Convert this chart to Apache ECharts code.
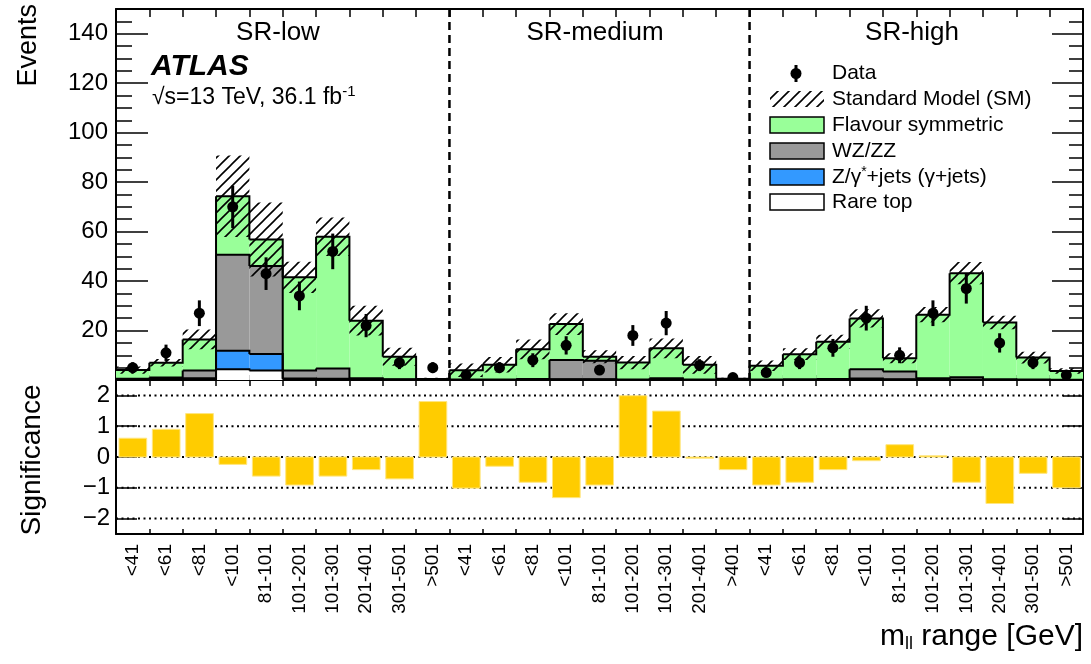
<!DOCTYPE html>
<html>
<head>
<meta charset="utf-8">
<script src="https://cdn.jsdelivr.net/npm/echarts@6/dist/echarts.min.js"></script>
<style>
  html, body { margin: 0; padding: 0; background: #fff; }
  #chart { width: 1091px; height: 664px; }
</style>
</head>
<body>
<div id="chart"></div>
<script>
// bins (m_ll ranges) of the three signal regions
const categories = [
  '<41', '<61', '<81', '<101', '81-101', '101-201', '101-301', '201-401', '301-501', '>501',
  '<41', '<61', '<81', '<101', '81-101', '101-201', '101-301', '201-401', '>401',
  '<41', '<61', '<81', '<101', '81-101', '101-201', '101-301', '201-401', '301-501', '>501'
];
const regionNames = ['SR-low', 'SR-medium', 'SR-high'];
const regionEdges = [0, 10, 19, 29];

// observed data and error bars
const dataObs = [5, 11, 27, 70, 43, 34, 52, 22, 7, 5, 2, 5, 8, 14, 4, 18, 23, 6, 1, 3, 7, 13, 25, 10, 27, 37, 15, 7, 2];
const dataErr = [2.2, 3.3, 5.2, 8.6, 6.6, 5.8, 7.2, 4.7, 2.6, 2.2, 1.4, 2.2, 2.8, 3.7, 2.0, 4.2, 4.9, 2.4, 1.0, 1.7, 2.6, 3.6, 5.0, 3.2, 5.2, 6.1, 3.9, 2.6, 1.4];

// background components (stacked from the bottom up)
const rareTop = [0.1, 0.3, 0.2, 4.3, 3.8, 0.3, 0.3, 0.1, 0.1, 0.1, 0.05, 0.05, 0.1, 0.2, 0.2, 0.05, 0.1, 0.05, 0.05, 0.05, 0.05, 0.05, 0.1, 0.1, 0.1, 0.1, 0.05, 0.05, 0.05];
const zJets = [0.1, 0.2, 0.5, 7.5, 6.7, 0.3, 0.2, 0.1, 0, 0, 0, 0, 0, 0.1, 0.1, 0, 0, 0, 0, 0, 0, 0, 0.5, 0.2, 0, 0, 0, 0, 0];
const wzZZ = [0.3, 0.5, 3.1, 38.8, 35.6, 3.2, 4.1, 0.5, 0.2, 0.1, 0.2, 0.2, 0.3, 7.8, 7.5, 0.2, 0.6, 0.2, 0.1, 0.2, 0.3, 0.4, 3.7, 3.1, 0.6, 1.0, 0.3, 0.2, 0.1];
const flavSym = [3.5, 6.0, 12.6, 23.7, 10.7, 37.7, 53.3, 23.3, 9.1, 0.2, 3.7, 5.9, 12.0, 14.5, 1.6, 6.8, 12.1, 5.9, 0.4, 5.5, 10.1, 15.0, 20.6, 5.4, 25.7, 42.1, 22.9, 8.8, 3.5];
// total SM uncertainty (half width of hatched band)
const smUnc = [1.5, 1.5, 4.0, 16.5, 15.0, 6.3, 7.8, 6.0, 3.6, 0.5, 2.7, 3.1, 4.0, 4.4, 2.6, 2.7, 4.0, 3.6, 0.4, 2.1, 2.4, 2.8, 3.7, 2.0, 3.1, 4.5, 2.7, 2.4, 1.1];

// lower panel
const significance = [0.61, 0.90, 1.41, -0.24, -0.62, -0.91, -0.62, -0.41, -0.71, 1.80,
  -1.01, -0.30, -0.82, -1.32, -0.91, 1.99, 1.49, -0.04, -0.41,
  -0.91, -0.82, -0.41, -0.12, 0.40, 0.04, -0.82, -1.51, -0.53, -1.0];
const sigTicks = [-2, -1, 0, 1, 2];

const FONT = '"Liberation Sans", Arial, Helvetica, sans-serif';
const nBins = categories.length;

function makeHatch() {
  const c = document.createElement('canvas');
  c.width = 11; c.height = 11;
  const g = c.getContext('2d');
  g.strokeStyle = '#000';
  g.lineWidth = 1.6;
  g.beginPath();
  g.moveTo(0, 11); g.lineTo(11, 0);
  g.moveTo(-5.5, 5.5); g.lineTo(5.5, -5.5);
  g.moveTo(5.5, 16.5); g.lineTo(16.5, 5.5);
  g.stroke();
  return c;
}
const hatch = makeHatch();

function layerRender(lower, upper, color) {
  return function (params, api) {
    const i = params.dataIndex;
    const w = api.size([1, 0])[0];
    const t = api.coord([i, upper[i]]);
    const b = api.coord([i, lower[i]]);
    const x0 = t[0] - w / 2, x1 = t[0] + w / 2;
    const pts = [[x0, t[1]], [x1, t[1]]];
    if (i < upper.length - 1) pts.push([x1, api.coord([i + 1, upper[i + 1]])[1]]);
    return {
      type: 'group',
      children: [
        {type: 'rect', z2: 0, shape: {x: x0, y: t[1], width: w, height: b[1] - t[1]}, style: {fill: color}},
        {type: 'polyline', z2: 10, shape: {points: pts}, style: {stroke: '#000', lineWidth: 2, fill: null}}
      ]
    };
  };
}

const layers = [
  {name: 'Rare top', values: rareTop, color: '#ffffff'},
  {name: 'Z/γ*+jets (γ+jets)', values: zJets, color: '#3399ff'},
  {name: 'WZ/ZZ', values: wzZZ, color: '#999999'},
  {name: 'Flavour symmetric', values: flavSym, color: '#99ff99'}
];
let base = categories.map(() => 0);
const stackSeries = layers.map(l => {
  const lower = base;
  const upper = base.map((v, i) => v + l.values[i]);
  base = upper;
  return {
    type: 'custom', name: l.name, xAxisIndex: 0, yAxisIndex: 0, z: 2, clip: true,
    data: upper.map((v, i) => [i, v]),
    renderItem: layerRender(lower, upper, l.color)
  };
});
const smTotal = base;

const chart = echarts.init(document.getElementById('chart'));

const tickLine = {color: '#000', width: 1.5};
const frameLine = {show: true, onZero: false, lineStyle: {color: '#000', width: 2}};

function catAxis(grid, pos, len, extra) {
  return Object.assign({
    gridIndex: grid, type: 'category', position: pos, data: categories,
    axisLine: frameLine,
    axisTick: {show: true, inside: true, length: len, interval: 0, lineStyle: tickLine},
    axisLabel: {show: false}, splitLine: {show: false}
  }, extra || {});
}
function valAxis(grid, pos, min, max, interval, len, showLine, label) {
  return {
    gridIndex: grid, type: 'value', position: pos, min: min, max: max, interval: interval,
    axisLine: showLine ? frameLine : {show: false},
    axisTick: {show: true, inside: true, length: len, lineStyle: tickLine},
    axisLabel: label || {show: false},
    splitLine: {show: false}
  };
}

const topLabel = {
  show: true, color: '#000', fontFamily: FONT, fontSize: 24, margin: 8,
  showMaxLabel: false, formatter: v => (v === 0 ? '' : String(v))
};

const sigAxis = (pos, len, withLabel) => ({
  gridIndex: 1, type: 'value', position: pos, min: -2.5, max: 2.5,
  axisLine: frameLine,
  axisTick: {show: true, inside: true, length: len, customValues: sigTicks, lineStyle: tickLine},
  axisLabel: withLabel ? {
    show: true, customValues: sigTicks, color: '#000', fontFamily: FONT, fontSize: 24, margin: 6,
    formatter: v => (v < 0 ? '\u2212' + Math.abs(v) : String(v))
  } : {show: false},
  splitLine: {show: false}
});

chart.setOption({
  animation: false,
  backgroundColor: '#fff',
  grid: [
    {left: 116, right: 8, top: 9, height: 371},
    {left: 116, right: 8, top: 380, height: 154}
  ],
  xAxis: [
    catAxis(0, 'bottom', 5),
    catAxis(0, 'top', 8),
    catAxis(1, 'bottom', 5, {
      axisLabel: {show: true, interval: 0, rotate: 90, margin: 10, color: '#000', fontFamily: FONT, fontSize: 19}
    }),
    catAxis(1, 'top', 6)
  ],
  yAxis: [
    valAxis(0, 'left', 0, 150, 20, 32, true, topLabel),
    valAxis(0, 'left', 0, 150, 5, 16, false),
    valAxis(0, 'right', 0, 150, 20, 31, true),
    valAxis(0, 'right', 0, 150, 5, 14, false),
    sigAxis('left', 21, true),
    sigAxis('right', 20, false)
  ],
  series: stackSeries.concat([
    {
      type: 'custom', name: 'Standard Model (SM)', xAxisIndex: 0, yAxisIndex: 0, z: 3, clip: true,
      data: smTotal.map((v, i) => [i, v]),
      renderItem: (params, api) => {
        const i = params.dataIndex;
        const w = api.size([1, 0])[0];
        const t = api.coord([i, smTotal[i] + smUnc[i]]);
        const b = api.coord([i, Math.max(0, smTotal[i] - smUnc[i])]);
        return {type: 'rect', shape: {x: t[0] - w / 2, y: t[1], width: w, height: b[1] - t[1]},
          style: {fill: {image: hatch, repeat: 'repeat'}}};
      }
    },
    {
      type: 'custom', name: 'Data', xAxisIndex: 0, yAxisIndex: 0, z: 4, clip: true,
      data: dataObs.map((v, i) => [i, v]),
      renderItem: (params, api) => {
        const i = params.dataIndex;
        const p = api.coord([i, dataObs[i]]);
        const hi = api.coord([i, dataObs[i] + dataErr[i]]);
        const lo = api.coord([i, Math.max(0, dataObs[i] - dataErr[i])]);
        return {type: 'group', children: [
          {type: 'line', shape: {x1: p[0], y1: hi[1], x2: p[0], y2: lo[1]}, style: {stroke: '#000', lineWidth: 3}},
          {type: 'circle', shape: {cx: p[0], cy: p[1], r: 5.5}, style: {fill: '#000'}}
        ]};
      }
    },
    {
      // region separators
      type: 'custom', xAxisIndex: 0, yAxisIndex: 0, z: 5, silent: true,
      data: regionEdges.slice(1, -1).map(e => [e, 0]),
      renderItem: (params, api) => {
        const e = regionEdges[params.dataIndex + 1];
        const w = api.size([1, 0])[0];
        const b = api.coord([e, 0]);
        const t = api.coord([e, 150]);
        const x = b[0] - w / 2;
        return {type: 'line', shape: {x1: x, y1: t[1], x2: x, y2: b[1]},
          style: {stroke: '#000', lineWidth: 2.5, lineDash: [8, 5]}};
      }
    },
    {
      // dotted reference lines of the lower panel
      type: 'custom', xAxisIndex: 2, yAxisIndex: 4, z: 1, silent: true,
      data: sigTicks.map(v => [0, v]),
      renderItem: (params, api) => {
        const v = sigTicks[params.dataIndex];
        const w = api.size([1, 0])[0];
        const a = api.coord([0, v]);
        const b = api.coord([nBins - 1, v]);
        return {type: 'line', shape: {x1: a[0] - w / 2, y1: a[1], x2: b[0] + w / 2, y2: a[1]},
          style: {stroke: '#000', lineWidth: 2, lineDash: [2, 3.5]}};
      }
    },
    {
      type: 'custom', name: 'Significance', xAxisIndex: 2, yAxisIndex: 4, z: 2, clip: true,
      data: significance.map((v, i) => [i, v]),
      renderItem: (params, api) => {
        const i = params.dataIndex;
        const w = api.size([1, 0])[0];
        const z = api.coord([i, 0]);
        const t = api.coord([i, significance[i]]);
        const x0 = z[0] - w / 2 + 0.09 * w;
        return {type: 'rect', shape: {x: x0, y: Math.min(z[1], t[1]), width: 0.83 * w, height: Math.abs(t[1] - z[1])},
          style: {fill: '#ffcc00', stroke: '#ffe680', lineWidth: 1}};
      }
    }
  ]),
  graphic: [
    {type: 'text', x: 29, y: 4, rotation: Math.PI / 2,
      style: {text: 'Events', font: '27px ' + FONT, fill: '#000', align: 'right', verticalAlign: 'middle'}},
    {type: 'text', x: 32, y: 460, rotation: Math.PI / 2,
      style: {text: 'Significance', font: '28px ' + FONT, fill: '#000', align: 'center', verticalAlign: 'middle'}},
    {type: 'text', x: 1083, y: 637,
      style: {text: '{m|m}{s|ll}{m| range [GeV]}', align: 'right', verticalAlign: 'middle', fill: '#000',
        rich: {m: {fontSize: 30, fontFamily: FONT, fill: '#000'}, s: {fontSize: 18, fontFamily: FONT, fill: '#000', padding: [15, 0, 0, 0]}}}},
    {type: 'text', x: 278, y: 33, style: {text: regionNames[0], font: '26px ' + FONT, fill: '#000', align: 'center', verticalAlign: 'middle'}},
    {type: 'text', x: 595, y: 33, style: {text: regionNames[1], font: '26px ' + FONT, fill: '#000', align: 'center', verticalAlign: 'middle'}},
    {type: 'text', x: 912, y: 33, style: {text: regionNames[2], font: '26px ' + FONT, fill: '#000', align: 'center', verticalAlign: 'middle'}},
    {type: 'text', x: 151, y: 67,
      style: {text: 'ATLAS', font: 'italic bold 30px ' + FONT, fill: '#000', align: 'left', verticalAlign: 'middle'}},
    {type: 'text', x: 152, y: 98,
      style: {text: '{m|√s=13 TeV, 36.1 fb}{s|-1}', align: 'left', verticalAlign: 'middle', fill: '#000',
        rich: {m: {fontSize: 23, fontFamily: FONT, fill: '#000'}, s: {fontSize: 15, fontFamily: FONT, fill: '#000', padding: [0, 0, 12, 0]}}}},
    // legend
    {type: 'line', shape: {x1: 796, y1: 65, x2: 796, y2: 82}, style: {stroke: '#000', lineWidth: 3}},
    {type: 'circle', shape: {cx: 796, cy: 73.5, r: 5.5}, style: {fill: '#000'}},
    {type: 'rect', shape: {x: 770, y: 91, width: 54, height: 16}, style: {fill: {image: hatch, repeat: 'repeat'}}},
    {type: 'rect', shape: {x: 770, y: 117, width: 54, height: 16}, style: {fill: '#99ff99', stroke: '#000', lineWidth: 1.5}},
    {type: 'rect', shape: {x: 770, y: 143, width: 54, height: 16}, style: {fill: '#999999', stroke: '#000', lineWidth: 1.5}},
    {type: 'rect', shape: {x: 770, y: 169, width: 54, height: 16}, style: {fill: '#3399ff', stroke: '#000', lineWidth: 1.5}},
    {type: 'rect', shape: {x: 770, y: 194, width: 54, height: 16}, style: {fill: '#ffffff', stroke: '#000', lineWidth: 1.5}},
    {type: 'text', x: 832, y: 73.5, style: {text: 'Data', font: '21px ' + FONT, fill: '#000', verticalAlign: 'middle'}},
    {type: 'text', x: 832, y: 99, style: {text: 'Standard Model (SM)', font: '21px ' + FONT, fill: '#000', verticalAlign: 'middle'}},
    {type: 'text', x: 832, y: 125, style: {text: 'Flavour symmetric', font: '21px ' + FONT, fill: '#000', verticalAlign: 'middle'}},
    {type: 'text', x: 832, y: 151, style: {text: 'WZ/ZZ', font: '21px ' + FONT, fill: '#000', verticalAlign: 'middle'}},
    {type: 'text', x: 832, y: 177,
      style: {text: '{m|Z/γ}{s|*}{m|+jets (γ+jets)}', verticalAlign: 'middle', fill: '#000',
        rich: {m: {fontSize: 21, fontFamily: FONT, fill: '#000'}, s: {fontSize: 14, fontFamily: FONT, fill: '#000', padding: [0, 0, 10, 0]}}}},
    {type: 'text', x: 832, y: 202, style: {text: 'Rare top', font: '21px ' + FONT, fill: '#000', verticalAlign: 'middle'}}
  ]
});
</script>
</body>
</html>
